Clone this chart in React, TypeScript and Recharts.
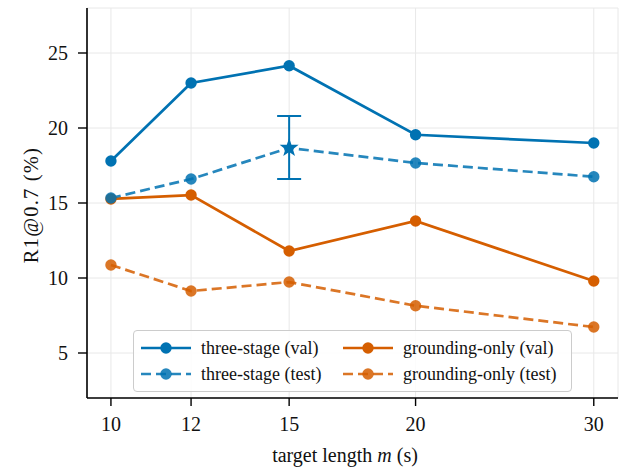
import React from 'react';
import { LineChart, Line, XAxis, YAxis, CartesianGrid, ErrorBar, Legend } from 'recharts';

const lengths = [10, 12, 15, 20, 30];
const threeStageVal = [17.8, 23.0, 24.15, 19.55, 19.0];
const threeStageTest = [15.33, 16.6, 18.67, 17.67, 16.75];
const groundingVal = [15.27, 15.53, 11.8, 13.8, 9.8];
const groundingTest = [10.87, 9.13, 9.73, 8.15, 6.73];
const starLength = 15;
const starError = [2.07, 2.13];
const xTicks = [10, 12, 15, 20, 30];
const yTicks = [5, 10, 15, 20, 25];

const BLUE = '#0072B2';
const ORANGE = '#D55E00';
const FONT = '"Liberation Serif", serif';
const DASH = '10 5';

const data = lengths.map((m, i) => ({
  m,
  tsVal: threeStageVal[i],
  tsTest: threeStageTest[i],
  gVal: groundingVal[i],
  gTest: groundingTest[i],
  star: m === starLength ? threeStageTest[i] : null,
  starErr: m === starLength ? starError : null,
}));

const series = [
  { key: 'tsVal', name: 'three-stage (val)', color: BLUE, dashed: false, opacity: 1 },
  { key: 'gVal', name: 'grounding-only (val)', color: ORANGE, dashed: false, opacity: 1 },
  { key: 'tsTest', name: 'three-stage (test)', color: BLUE, dashed: true, opacity: 0.85 },
  { key: 'gTest', name: 'grounding-only (test)', color: ORANGE, dashed: true, opacity: 0.85 },
];

function starPath(cx: number, cy: number, R: number, r: number) {
  let d = '';
  for (let i = 0; i < 10; i++) {
    const rad = i % 2 === 0 ? R : r;
    const a = -Math.PI / 2 + (i * Math.PI) / 5;
    d += (i === 0 ? 'M' : 'L') + (cx + rad * Math.cos(a)).toFixed(2) + ',' + (cy + rad * Math.sin(a)).toFixed(2);
  }
  return d + 'Z';
}

const makeDot = (color: string, opacity: number, starAt?: number) => (props: any) => {
  const { cx, cy, payload, index } = props;
  if (cx == null || cy == null) return <g key={index} />;
  if (starAt != null && payload && payload.m === starAt) return <g key={index} />;
  return <circle key={index} cx={cx} cy={cy} r={5.7} fill={color} fillOpacity={opacity} stroke="none" />;
};

const starDot = (props: any) => {
  const { cx, cy, index } = props;
  if (cx == null || cy == null) return <g key={index} />;
  return <path key={index} d={starPath(cx, cy, 10, 4)} fill={BLUE} stroke="none" />;
};

const LegendBox = () => (
  <div
    style={{
      border: '1.3px solid #cccccc',
      borderRadius: 4,
      background: 'rgba(255,255,255,0.85)',
      padding: '4px 0 4px 7px',
      display: 'grid',
      gridTemplateColumns: '202px auto',
      rowGap: 0,
      fontFamily: FONT,
      fontSize: 18,
      color: '#111',
      boxSizing: 'border-box',
      width: 439,
      height: 62,
    }}
  >
    {series.map((s) => (
      <div key={s.key} style={{ display: 'flex', alignItems: 'center', height: 26 }}>
        <svg width={50} height={14} style={{ marginRight: 10, flex: 'none' }}>
          <line
            x1={0}
            y1={7}
            x2={50}
            y2={7}
            stroke={s.color}
            strokeOpacity={s.opacity}
            strokeWidth={2.6}
            strokeDasharray={s.dashed ? DASH : undefined}
          />
          <circle cx={25} cy={7} r={5.7} fill={s.color} fillOpacity={s.opacity} />
        </svg>
        <span style={{ whiteSpace: 'nowrap' }}>{s.name}</span>
      </div>
    ))}
  </div>
);

export default function App() {
  return (
    <div style={{ position: 'absolute', left: 0, top: 0, width: 621, height: 469, background: '#fff' }}>
      <LineChart width={621} height={469} data={data} margin={{ top: 8, right: 3, bottom: 0, left: 0 }}>
        <CartesianGrid stroke="#e8e8e8" strokeWidth={1} />
        <XAxis
          dataKey="m"
          type="number"
          scale="log"
          domain={[9.47, 31.7]}
          allowDataOverflow
          ticks={xTicks}
          interval={0}
          height={71}
          tickSize={8}
          tickMargin={11}
          axisLine={{ stroke: '#000', strokeWidth: 1.6 }}
          tickLine={{ stroke: '#000', strokeWidth: 1.4 }}
          tick={{ fill: '#111', fontFamily: FONT, fontSize: 20 }}
          label={() => (
            <text x={345} y={462} textAnchor="middle" fontFamily={FONT} fontSize={20} fill="#111">
              target length <tspan fontStyle="italic">m</tspan> (s)
            </text>
          )}
        />
        <YAxis
          type="number"
          domain={[2, 28]}
          allowDataOverflow
          ticks={yTicks}
          interval={0}
          width={87}
          tickSize={9}
          tickMargin={10}
          axisLine={{ stroke: '#000', strokeWidth: 1.6 }}
          tickLine={{ stroke: '#000', strokeWidth: 1.4 }}
          tick={{ fill: '#111', fontFamily: FONT, fontSize: 20 }}
          label={() => (
            <text x={38} y={205} transform="rotate(-90 38 205)" textAnchor="middle" fontFamily={FONT} fontSize={20.5} letterSpacing={1.2} fill="#111">
              R1@0.7 (%)
            </text>
          )}
        />
        {series.map((s) => (
          <Line
            key={s.key}
            dataKey={s.key}
            name={s.name}
            type="linear"
            stroke={s.color}
            strokeOpacity={s.opacity}
            strokeWidth={2.7}
            strokeDasharray={s.dashed ? DASH : undefined}
            dot={makeDot(s.color, s.opacity, s.key === 'tsTest' ? starLength : undefined)}
            activeDot={false}
            isAnimationActive={false}
            legendType="none"
          />
        ))}
        <Line
          dataKey="star"
          name="star"
          stroke="none"
          dot={starDot}
          activeDot={false}
          isAnimationActive={false}
          connectNulls={false}
          legendType="none"
        >
          <ErrorBar dataKey="starErr" direction="y" width={12} stroke={BLUE} strokeWidth={2} />
        </Line>
        <Legend
          layout="horizontal"
          verticalAlign="middle"
          align="center"
          content={() => <LegendBox />}
          wrapperStyle={{ position: 'absolute', left: 133, top: 330, width: 439, height: 62 }}
        />
      </LineChart>
    </div>
  );
}
